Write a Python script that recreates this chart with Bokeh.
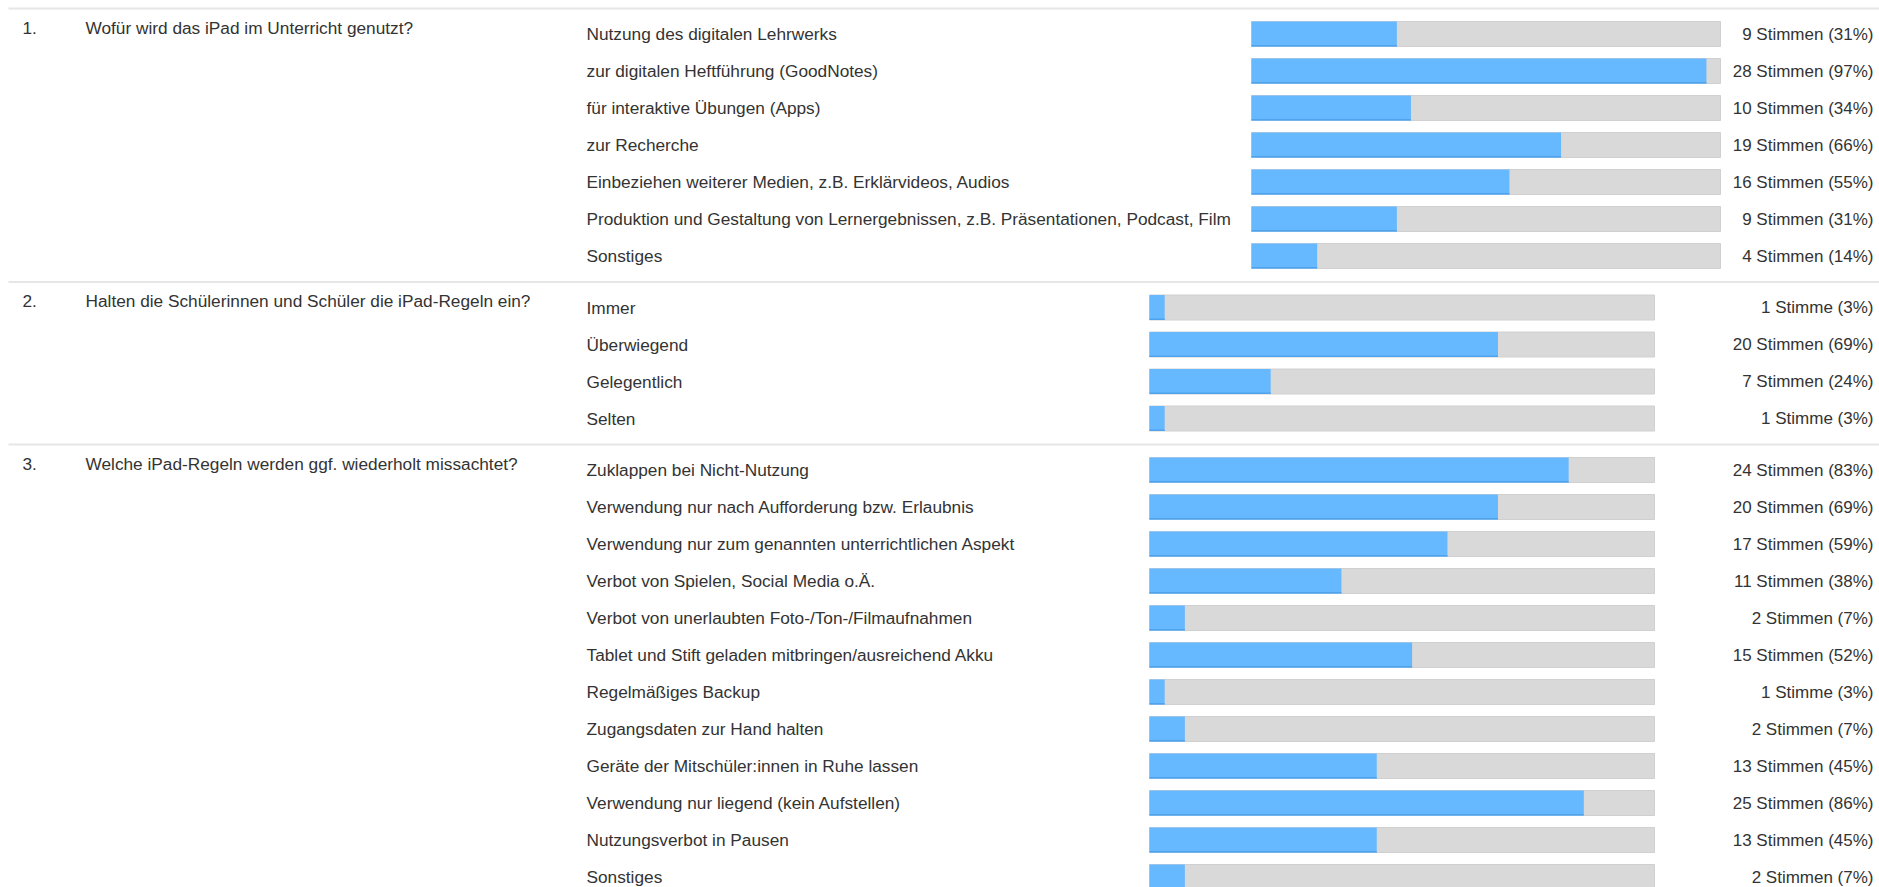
from bokeh.plotting import figure
from bokeh.models import Range1d, ColumnDataSource
from bokeh.core.properties import value
from bokeh.embed import file_html
from bokeh.resources import INLINE

# ---------------- data ----------------
question_numbers = ["1.", "2.", "3."]
questions = [
    "Wofür wird das iPad im Unterricht genutzt?",
    "Halten die Schülerinnen und Schüler die iPad-Regeln ein?",
    "Welche iPad-Regeln werden ggf. wiederholt missachtet?",
]

q1_options = [
    "Nutzung des digitalen Lehrwerks",
    "zur digitalen Heftführung (GoodNotes)",
    "für interaktive Übungen (Apps)",
    "zur Recherche",
    "Einbeziehen weiterer Medien, z.B. Erklärvideos, Audios",
    "Produktion und Gestaltung von Lernergebnissen, z.B. Präsentationen, Podcast, Film",
    "Sonstiges",
]
q1_votes = [9, 28, 10, 19, 16, 9, 4]
q1_pct = [31, 97, 34, 66, 55, 31, 14]

q2_options = ["Immer", "Überwiegend", "Gelegentlich", "Selten"]
q2_votes = [1, 20, 7, 1]
q2_pct = [3, 69, 24, 3]

q3_options = [
    "Zuklappen bei Nicht-Nutzung",
    "Verwendung nur nach Aufforderung bzw. Erlaubnis",
    "Verwendung nur zum genannten unterrichtlichen Aspekt",
    "Verbot von Spielen, Social Media o.Ä.",
    "Verbot von unerlaubten Foto-/Ton-/Filmaufnahmen",
    "Tablet und Stift geladen mitbringen/ausreichend Akku",
    "Regelmäßiges Backup",
    "Zugangsdaten zur Hand halten",
    "Geräte der Mitschüler:innen in Ruhe lassen",
    "Verwendung nur liegend (kein Aufstellen)",
    "Nutzungsverbot in Pausen",
    "Sonstiges",
]
q3_votes = [24, 20, 17, 11, 2, 15, 1, 2, 13, 25, 13, 2]
q3_pct = [83, 69, 59, 38, 7, 52, 3, 7, 45, 86, 45, 7]

# ---------------- layout / style ----------------
W, H = 1879, 887
ROW = 37.0
FIRST = 25.5
AFTER = 26.0
BAR_H = 25.0
TOP0 = 8.0
TRACK = [(1251, 1720), (1149, 1654), (1149, 1654)]
X_NUM, X_Q, X_OPT, X_CNT = 22, 85, 586, 1873
SEP_X0 = 8
Q_OFF = -6.5
FONT = value("Liberation Sans")
FS = "17.25px"
FS_CNT = "17px"
TXT = "#333333"
BLUE = "#66b8ff"
BLUE_EDGE = "#4fa3ec"
GREY = "#d9d9d9"

p = figure(width=W, height=H, x_range=Range1d(0, W), y_range=Range1d(H, 0),
           output_backend="svg", toolbar_location=None,
           x_axis_type=None, y_axis_type=None, min_border=0,
           outline_line_color=None, background_fill_color="white",
           border_fill_color="white")
p.grid.visible = False

sections = [
    (q1_options, q1_votes, q1_pct),
    (q2_options, q2_votes, q2_pct),
    (q3_options, q3_votes, q3_pct),
]

sep_y = []
rows = dict(y=[], x0=[], x1=[], xf=[], opt=[], cnt=[])
qrows = dict(y=[], num=[], q=[])
top = TOP0
for k, (opts, votes, pct) in enumerate(sections):
    sep_y.append(top)
    x0, x1 = TRACK[k]
    ys = [top + FIRST + ROW * i for i in range(len(opts))]
    qrows["y"].append(ys[0] + Q_OFF)
    qrows["num"].append(question_numbers[k])
    qrows["q"].append(questions[k])
    for y, o, v, pc in zip(ys, opts, votes, pct):
        rows["y"].append(y)
        rows["x0"].append(x0)
        rows["x1"].append(x1)
        rows["xf"].append(x0 + (x1 - x0) * pc / 100.0)
        rows["opt"].append(o)
        rows["cnt"].append(f"{v} Stimme ({pc}%)" if v == 1 else f"{v} Stimmen ({pc}%)")
    top = ys[-1] + AFTER

src = ColumnDataSource(dict(
    y=rows["y"], x0=rows["x0"], x1=rows["x1"], xf=rows["xf"],
    top=[y - BAR_H / 2 for y in rows["y"]],
    bottom=[y + BAR_H / 2 for y in rows["y"]],
    edge=[y + BAR_H / 2 - 1.5 for y in rows["y"]],
    opt=rows["opt"], cnt=rows["cnt"],
))
qsrc = ColumnDataSource(qrows)

# separators
p.segment(x0=SEP_X0, x1=W, y0=sep_y, y1=sep_y, line_color="#e6e6e6", line_width=2)

# tracks
p.quad(left="x0", right="x1", top="top", bottom="bottom", source=src,
       fill_color=GREY, line_color="#d0d0d0", line_width=1)
# filled part
p.quad(left="x0", right="xf", top="top", bottom="bottom", source=src,
       fill_color=BLUE, line_color=None)
p.quad(left="x0", right="xf", top="edge", bottom="bottom", source=src,
       fill_color=BLUE_EDGE, line_color=None)

# texts
p.text(x=X_NUM, y="y", text="num", source=qsrc, text_font=FONT, text_font_size=FS,
       text_color=TXT, text_baseline="middle", text_align="left")
p.text(x=X_Q, y="y", text="q", source=qsrc, text_font=FONT, text_font_size=FS,
       text_color=TXT, text_baseline="middle", text_align="left")
p.text(x=X_OPT, y="y", text="opt", source=src, text_font=FONT, text_font_size=FS,
       text_color=TXT, text_baseline="middle", text_align="left")
p.text(x=X_CNT, y="y", text="cnt", source=src, text_font=FONT, text_font_size=FS_CNT,
       text_color=TXT, text_baseline="middle", text_align="right")

open("out.html", "w").write(file_html(p, INLINE))
